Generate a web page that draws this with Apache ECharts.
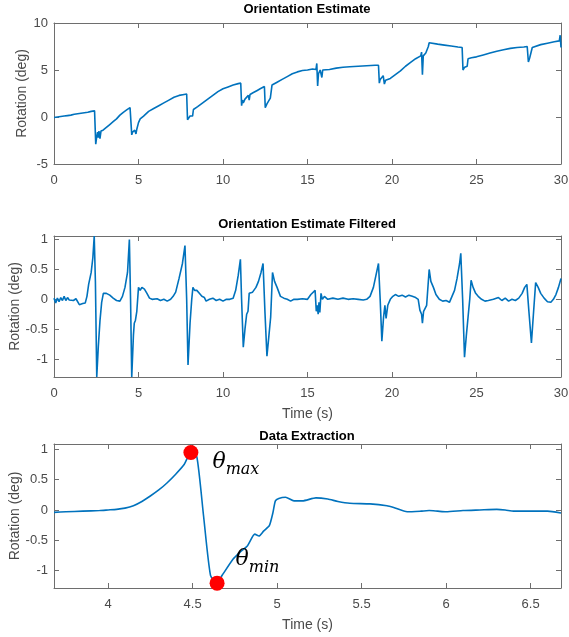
<!DOCTYPE html>
<html>
<head>
<meta charset="utf-8">
<script src="https://cdn.jsdelivr.net/npm/echarts@6/dist/echarts.min.js"></script>
<style>
html,body{margin:0;padding:0;background:#fff;}
#chart{width:569px;height:637px;}
</style>
</head>
<body>
<div id="chart"></div>
<script>
// ---------- DATA ----------
var titles = ['Orientation Estimate', 'Orientation Estimate Filtered', 'Data Extraction'];
var yAxisName = 'Rotation (deg)';
var xAxisName = 'Time (s)';

// Top: raw orientation estimate [time s, rotation deg]
var rawEstimate = [
[0,-0.05],[0.1,-0.15],[0.2,0.0],[0.3,-0.1],[0.4,0.05],[0.5,-0.05],[0.6,0.1],[0.7,0.0],[0.8,0.15],[0.9,0.05],
[1.0,0.2],[1.1,0.15],[1.2,0.3],[1.3,0.25],[1.4,0.35],[1.5,0.3],[1.6,0.4],[1.7,0.4],[1.8,0.45],[1.9,0.5],
[2.0,0.5],[2.1,0.55],[2.2,0.6],[2.3,0.6],[2.4,0.65],[2.42,0.6],
[2.47,-2.9],[2.52,-2.2],[2.58,-1.6],[2.62,-2.2],[2.66,-1.5],[2.72,-2.3],[2.78,-1.5],[2.9,-1.4],[3.1,-1.1],[3.3,-0.8],
[3.5,-0.5],[3.7,-0.2],[3.9,0.2],[4.1,0.5],[4.3,0.75],[4.5,1.0],[4.55,1.05],
[4.6,-1.9],[4.65,-1.6],[4.7,-1.8],[4.78,-1.4],[4.85,-1.8],[4.9,-1.3],[5.0,-0.6],[5.1,-0.2],[5.3,0.1],[5.6,0.6],
[5.9,0.9],[6.2,1.2],[6.5,1.5],[6.8,1.8],[7.1,2.1],[7.4,2.3],[7.7,2.4],[7.85,2.45],
[7.9,-0.3],[7.95,-0.1],[8.0,-0.3],[8.05,0.1],[8.12,-0.1],[8.2,0.1],[8.25,0.8],[8.35,0.9],[8.5,1.1],[8.8,1.5],
[9.1,1.9],[9.4,2.3],[9.7,2.7],[10.0,3.0],[10.3,3.2],[10.6,3.4],[10.9,3.55],[11.05,3.6],
[11.1,1.2],[11.15,1.8],[11.2,1.5],[11.3,1.9],[11.4,1.7],[11.5,2.3],[11.55,1.8],[11.6,2.4],[11.8,2.6],[12.0,2.8],
[12.2,3.0],[12.45,3.25],
[12.5,1.0],[12.6,1.4],[12.7,1.5],[12.8,2.0],[12.9,3.4],[13.0,3.5],[13.2,3.7],[13.5,4.0],[13.8,4.3],[14.1,4.6],
[14.4,4.8],[14.7,4.95],[15.0,5.0],[15.3,5.1],[15.5,5.05],
[15.55,5.7],[15.6,3.3],[15.65,4.6],[15.7,4.8],[15.75,5.0],[15.8,4.6],[15.85,4.2],[15.9,5.0],[16.0,4.9],[16.3,5.05],
[16.7,5.2],[17.1,5.3],[17.5,5.35],[18.0,5.4],[18.5,5.45],[19.0,5.5],[19.2,5.5],
[19.25,3.6],[19.3,4.0],[19.4,3.9],[19.48,4.4],[19.55,3.5],[19.62,3.9],[19.7,3.8],[19.9,4.1],[20.2,4.5],[20.5,4.9],
[20.8,5.4],[21.1,5.8],[21.4,6.2],[21.7,6.5],
[21.75,6.9],[21.8,4.5],[21.85,6.5],[22.0,6.8],[22.1,7.0],[22.15,7.5],[22.2,7.9],[22.3,7.85],[22.7,7.75],[23.1,7.65],
[23.5,7.55],[23.9,7.45],[24.15,7.4],
[24.2,5.0],[24.3,5.3],[24.4,5.5],[24.45,5.4],[24.5,6.2],[24.7,6.3],[25.0,6.4],[25.4,6.6],[25.8,6.8],[26.2,7.0],
[26.6,7.15],[27.0,7.3],[27.4,7.4],[27.8,7.45],[28.0,7.5],
[28.03,7.7],[28.07,5.85],[28.15,6.3],[28.25,6.5],[28.3,7.4],[28.4,7.55],[28.8,7.7],[29.2,7.85],[29.6,8.0],[29.9,8.1],
[29.95,8.7],[30.0,7.4]
];

// Middle: filtered orientation estimate [time s, rotation deg]
var filteredEstimate = [
[0,0.02],[0.1,-0.06],[0.2,0.02],[0.3,-0.04],[0.4,0.03],[0.5,-0.02],[0.6,0.05],[0.7,-0.02],[0.8,0.03],[0.9,-0.01],
[1.0,0.02],[1.15,-0.02],[1.3,0.01],[1.4,-0.02],[1.5,-0.09],[1.6,-0.11],[1.7,-0.07],
[1.85,-0.06],[1.95,0.05],[2.05,0.25],[2.2,0.45],[2.3,0.7],[2.38,1.06],[2.45,0.3],[2.53,-1.3],[2.62,-0.8],
[2.72,-0.36],[2.82,-0.05],[2.92,0.1],[3.1,0.1],[3.3,0.07],[3.5,0.02],[3.7,-0.02],[3.9,-0.03],[4.05,0.05],[4.2,0.2],
[4.35,0.45],[4.46,1.0],[4.53,0.0],[4.6,-1.3],[4.7,-0.6],[4.75,-0.4],[4.82,-0.35],[4.9,-0.2],[5.0,0.2],[5.1,0.15],
[5.2,0.2],[5.35,0.17],[5.5,0.1],[5.65,0.02],[5.8,0.0],[5.9,-0.02],[6.1,0.01],[6.3,-0.02],[6.5,0.0],[6.7,-0.03],
[6.9,0.0],[7.05,0.05],[7.2,0.12],[7.4,0.35],[7.6,0.6],[7.75,0.9],[7.85,0.0],[7.93,-1.1],[8.05,-0.4],[8.15,0.0],
[8.22,0.2],[8.32,0.15],[8.45,0.15],[8.6,0.1],[8.75,0.05],[8.9,0.03],[9.0,-0.03],[9.2,0.0],[9.4,0.02],[9.6,-0.02],
[9.8,0.0],[10.0,-0.03],[10.2,0.0],[10.4,0.0],[10.6,0.02],[10.75,0.15],[10.9,0.4],[11.03,0.67],[11.1,0.0],[11.2,-0.8],
[11.3,-0.5],[11.4,-0.25],[11.48,-0.2],[11.55,0.1],[11.65,0.08],[11.75,0.12],[11.85,0.1],[11.95,0.2],[12.1,0.3],[12.25,0.45],
[12.37,0.6],[12.48,-0.2],[12.6,-0.95],[12.72,-0.6],[12.82,-0.3],[12.93,0.45],[13.05,0.3],[13.2,0.2],[13.4,0.05],[13.6,0.02],
[13.8,0.0],[14.0,-0.03],[14.2,0.0],[14.4,0.0],[14.7,0.01],[15.0,0.0],[15.2,0.08],[15.45,0.15],[15.52,-0.2],[15.58,-0.1],
[15.63,-0.25],[15.68,-0.05],[15.73,-0.22],[15.8,0.1],[15.88,0.0],[16.0,0.05],[16.2,0.0],[16.5,0.02],[16.8,0.0],[17.1,0.02],
[17.4,0.0],[17.7,0.01],[18.0,0.0],[18.3,-0.01],[18.5,0.0],[18.7,0.05],[18.9,0.2],[19.05,0.4],[19.2,0.6],[19.3,0.0],
[19.4,-0.7],[19.5,-0.3],[19.58,-0.1],[19.65,-0.32],[19.75,-0.1],[19.9,0.0],[20.05,0.05],[20.2,0.08],[20.4,0.05],[20.6,0.07],
[20.8,0.04],[21.0,0.07],[21.2,0.05],[21.4,0.03],[21.55,0.0],[21.65,-0.18],[21.75,-0.25],[21.8,-0.4],[21.87,-0.2],[21.95,-0.22],
[22.05,-0.1],[22.2,0.5],[22.3,0.3],[22.45,0.2],[22.6,0.08],[22.8,0.0],[23.0,-0.03],[23.2,-0.02],[23.4,-0.05],[23.55,0.05],
[23.7,0.15],[23.85,0.35],[24.0,0.6],[24.07,0.77],[24.18,0.0],[24.29,-0.97],[24.4,-0.6],[24.5,-0.3],[24.6,0.0],[24.68,0.32],
[24.8,0.2],[24.95,0.1],[25.1,0.05],[25.3,0.0],[25.5,-0.03],[25.7,-0.02],[26.0,0.0],[26.3,0.03],[26.5,-0.02],[26.7,0.02],
[26.9,-0.03],[27.1,0.0],[27.3,-0.02],[27.5,0.02],[27.7,0.1],[27.85,0.2],[27.98,0.25],[28.1,-0.2],[28.25,-0.73],[28.38,-0.2],
[28.5,0.28],[28.65,0.2],[28.8,0.1],[29.0,0.02],[29.2,-0.04],[29.4,-0.05],[29.55,0.0],[29.7,0.08],[29.85,0.2],[30,0.35]
];

// Bottom: extracted window [time s, rotation deg]
var extractWindow = [
[3.68,-0.04],[3.75,-0.03],[3.85,-0.02],[3.95,-0.01],[4.0,0.0],[4.05,0.01],[4.1,0.03],[4.15,0.07],[4.2,0.14],[4.25,0.23],
[4.3,0.33],[4.35,0.45],[4.4,0.59],[4.45,0.75],[4.49,0.95],[4.525,0.88],[4.565,-0.1],[4.606,-1.08],[4.645,-1.21],[4.675,-1.08],
[4.74,-0.81],[4.78,-0.7],[4.825,-0.59],[4.868,-0.4],[4.893,-0.43],[4.92,-0.35],[4.954,-0.26],[4.975,-0.05],[4.99,0.15],[5.01,0.19],
[5.05,0.21],[5.1,0.15],[5.15,0.15],[5.23,0.2],[5.3,0.18],[5.36,0.14],[5.43,0.11],[5.55,0.1],[5.65,0.07],[5.69,0.04],
[5.77,-0.03],[5.85,-0.02],[5.9,-0.01],[5.95,-0.02],[6.0,-0.03],[6.1,-0.01],[6.2,0.0],[6.3,0.01],[6.35,0.0],[6.4,-0.02],
[6.5,-0.02],[6.6,-0.02],[6.68,-0.05]
];

var thetaMax = [4.49, 0.95];
var thetaMin = [4.645, -1.21];

// axis ranges and tick labels
var topX = [0, 30], topY = [-5, 10];
var midX = [0, 30], midY = [-1.3, 1.06];
var botX = [3.68, 6.68], botY = [-1.29, 1.09];
var tick30 = [0, 5, 10, 15, 20, 25, 30];
var topYTicks = [-5, 0, 5, 10];
var midYTicks = [-1, -0.5, 0, 0.5, 1];
var botXTicks = [4, 4.5, 5, 5.5, 6, 6.5];

// ---------- CHART ----------
var chart = echarts.init(document.getElementById('chart'), null, {renderer: 'canvas'});
var FONT = 'Liberation Sans, Arial, sans-serif';
var LBL = '#4a4a4a';
var AX = '#6e6e6e';
var LINE = '#0072BD';

var grids = [
  {left: 54, width: 507, top: 23, height: 141, outerBoundsMode: 'none', containLabel: false},
  {left: 54, width: 507, top: 236, height: 141, outerBoundsMode: 'none', containLabel: false},
  {left: 54, width: 507, top: 444, height: 144, outerBoundsMode: 'none', containLabel: false}
];

function xAx(gi, range, ticks, pos, showName) {
  return {
    type: 'value', gridIndex: gi, position: pos, min: range[0], max: range[1],
    axisLine: {show: true, onZero: false, lineStyle: {color: AX, width: 1}},
    axisTick: {show: true, inside: true, length: 5, customValues: ticks, lineStyle: {color: AX}},
    axisLabel: {show: pos === 'bottom', customValues: ticks, margin: 10, fontFamily: FONT, fontSize: 13, color: LBL},
    splitLine: {show: false},
    name: showName ? xAxisName : '', nameLocation: 'middle', nameGap: 30, nameMoveOverlap: false,
    nameTextStyle: {fontFamily: FONT, fontSize: 14, color: LBL}
  };
}
function yAx(gi, range, ticks, pos, gap) {
  return {
    type: 'value', gridIndex: gi, position: pos, min: range[0], max: range[1],
    axisLine: {show: true, onZero: false, lineStyle: {color: AX, width: 1}},
    axisTick: {show: true, inside: true, length: 5, customValues: ticks, lineStyle: {color: AX}},
    axisLabel: {show: pos === 'left', customValues: ticks, margin: 6, fontFamily: FONT, fontSize: 13, color: LBL},
    splitLine: {show: false},
    name: pos === 'left' ? yAxisName : '', nameLocation: 'middle', nameGap: gap, nameRotate: 90,
    nameMoveOverlap: false,
    nameTextStyle: {fontFamily: FONT, fontSize: 14, color: LBL}
  };
}

var option = {
  animation: false,
  backgroundColor: '#ffffff',
  title: [
    {text: titles[0], left: 307, top: 3, textAlign: 'center', padding: 0,
     textStyle: {fontFamily: FONT, fontSize: 13, fontWeight: 'bold', color: '#000'}},
    {text: titles[1], left: 307, top: 218, textAlign: 'center', padding: 0,
     textStyle: {fontFamily: FONT, fontSize: 13, fontWeight: 'bold', color: '#000'}},
    {text: titles[2], left: 307, top: 430, textAlign: 'center', padding: 0,
     textStyle: {fontFamily: FONT, fontSize: 13, fontWeight: 'bold', color: '#000'}}
  ],
  grid: grids,
  xAxis: [
    xAx(0, topX, tick30, 'bottom', false), xAx(0, topX, tick30, 'top', false),
    xAx(1, midX, tick30, 'bottom', true), xAx(1, midX, tick30, 'top', false),
    xAx(2, botX, botXTicks, 'bottom', true), xAx(2, botX, botXTicks, 'top', false)
  ],
  yAxis: [
    yAx(0, topY, topYTicks, 'left', 25), yAx(0, topY, topYTicks, 'right', 0),
    yAx(1, midY, midYTicks, 'left', 32), yAx(1, midY, midYTicks, 'right', 0),
    yAx(2, botY, midYTicks, 'left', 32), yAx(2, botY, midYTicks, 'right', 0)
  ],
  series: [
    {type: 'line', xAxisIndex: 0, yAxisIndex: 0, data: rawEstimate, showSymbol: false,
     lineStyle: {color: LINE, width: 1.6}, clip: true, z: 2},
    {type: 'line', xAxisIndex: 2, yAxisIndex: 2, data: filteredEstimate, showSymbol: false,
     lineStyle: {color: LINE, width: 1.6}, clip: true, z: 2},
    {type: 'line', xAxisIndex: 4, yAxisIndex: 4, data: extractWindow, showSymbol: false, smooth: 0.2,
     lineStyle: {color: LINE, width: 1.6}, clip: true, z: 2},
    {type: 'scatter', xAxisIndex: 4, yAxisIndex: 4, symbolSize: 15, itemStyle: {color: '#ff0000', opacity: 1},
     data: [
       {value: thetaMax, label: {show: true, position: [29, 6], formatter: '{t|θ}{s|max}'}},
       {value: thetaMin, label: {show: true, position: [26, -27], formatter: '{t|θ}{s|min}'}}
     ],
     label: {
       rich: {
         t: {fontFamily: 'DejaVu Serif', fontStyle: 'italic', fontSize: 22, color: '#000', verticalAlign: 'bottom', padding: [0, 0, 5, 0]},
         s: {fontFamily: 'DejaVu Serif', fontStyle: 'italic', fontSize: 16, color: '#000', verticalAlign: 'bottom'}
       }
     },
     z: 10}
  ]
};
chart.setOption(option);
</script>
</body>
</html>
